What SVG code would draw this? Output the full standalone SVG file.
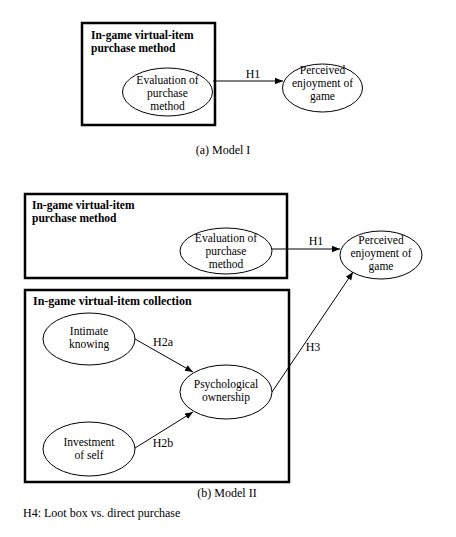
<svg xmlns="http://www.w3.org/2000/svg" width="456" height="537" viewBox="0 0 456 537">
<defs>
<marker id="ah" viewBox="0 0 10 10" refX="10" refY="5" markerWidth="8" markerHeight="8" markerUnits="userSpaceOnUse" orient="auto">
<path d="M0,1 L10,5 L0,9 z" fill="#000"/>
</marker>
<style>
.box{fill:none;stroke:#000;stroke-width:2.5}
.el{fill:#fff;stroke:#000;stroke-width:1}
.t{font-family:"Liberation Serif","Times New Roman",serif;font-size:12px;fill:#000}
.s{font-size:11.5px}
.c{text-anchor:middle}
.b{font-weight:bold}
.ln{fill:none;stroke:#000;stroke-width:1;marker-end:url(#ah)}
</style>
</defs>
<rect width="456" height="537" fill="#fff"/>

<g id="modelI">
<g id="box-a">
<rect class="box" x="82" y="23" width="133" height="102"/>
<text class="t s b" x="91" y="39">In-game virtual-item</text>
<text class="t s b" x="91" y="52">purchase method</text>
</g>
<g id="eval-a">
<ellipse class="el" cx="167.5" cy="92" rx="45" ry="24"/>
<text class="t s c" x="167.5" y="84">Evaluation of</text>
<text class="t s c" x="167.5" y="97">purchase</text>
<text class="t s c" x="167.5" y="110">method</text>
</g>
<g id="enjoy-a">
<ellipse class="el" cx="322.5" cy="88" rx="40" ry="24"/>
<text class="t s c" x="322.5" y="74">Perceived</text>
<text class="t s c" x="322.5" y="87">enjoyment of</text>
<text class="t s c" x="322.5" y="100">game</text>
</g>
<text class="t c" x="223" y="154">(a) Model I</text>
</g>

<g id="modelII">
<g id="box-b1">
<rect class="box" x="25" y="194" width="262" height="84"/>
<text class="t s b" x="32" y="209">In-game virtual-item</text>
<text class="t s b" x="32" y="222">purchase method</text>
</g>
<g id="box-b2">
<rect class="box" x="25" y="290" width="264" height="192"/>
<text class="t b" x="33" y="305">In-game virtual-item collection</text>
</g>
<g id="eval-b">
<ellipse class="el" cx="226" cy="251" rx="46" ry="23"/>
<text class="t s c" x="226" y="242">Evaluation of</text>
<text class="t s c" x="226" y="255">purchase</text>
<text class="t s c" x="226" y="268">method</text>
</g>
<g id="enjoy-b">
<ellipse class="el" cx="381" cy="255" rx="41" ry="24"/>
<text class="t s c" x="381" y="244">Perceived</text>
<text class="t s c" x="381" y="257">enjoyment of</text>
<text class="t s c" x="381" y="270">game</text>
</g>
<g id="intimate">
<ellipse class="el" cx="89" cy="339" rx="46" ry="26"/>
<text class="t s c" x="89" y="335">Intimate</text>
<text class="t s c" x="89" y="348">knowing</text>
</g>
<g id="psych">
<ellipse class="el" cx="226" cy="392" rx="46" ry="27"/>
<text class="t s c" x="226" y="388">Psychological</text>
<text class="t s c" x="226" y="401">ownership</text>
</g>
<g id="invest">
<ellipse class="el" cx="89" cy="449" rx="46" ry="27"/>
<text class="t s c" x="89" y="446">Investment</text>
<text class="t s c" x="89" y="459">of self</text>
</g>
<text class="t c" x="227" y="497">(b) Model II</text>
<text class="t" x="23" y="517">H4: Loot box vs. direct purchase</text>
</g>

<g id="connectors">
<line class="ln" x1="213" y1="81" x2="283" y2="81"/>
<text class="t c" x="253" y="78">H1</text>
<line class="ln" x1="272" y1="249" x2="340" y2="249"/>
<text class="t c" x="316" y="245">H1</text>
<line class="ln" x1="135" y1="339" x2="193" y2="372"/>
<text class="t c" x="163" y="346">H2a</text>
<line class="ln" x1="135" y1="448" x2="193" y2="412"/>
<text class="t c" x="163" y="447">H2b</text>
<line class="ln" x1="272" y1="392" x2="353" y2="272"/>
<text class="t c" x="313" y="351">H3</text>
</g>
</svg>
